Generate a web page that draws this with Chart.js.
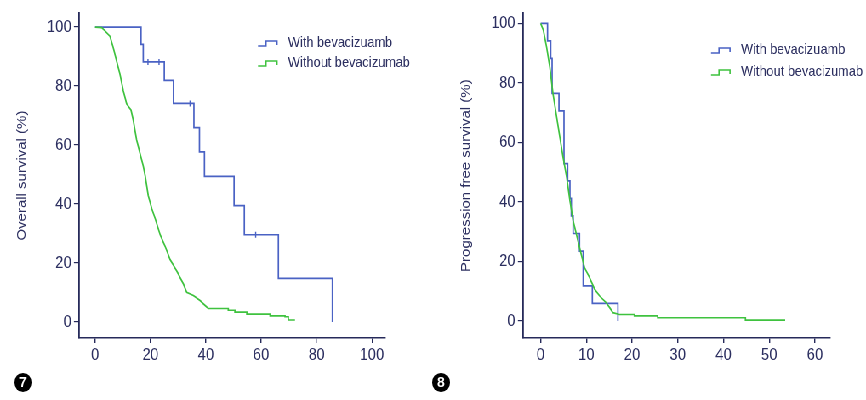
<!DOCTYPE html>
<html>
<head>
<meta charset="utf-8">
<script src="https://cdn.jsdelivr.net/npm/chart.js@4/dist/chart.umd.min.js"></script>
<style>
  html, body { margin: 0; padding: 0; background: #fff; }
  #wrap { position: relative; width: 866px; height: 400px; overflow: hidden; }
  /* la figura original está comprimida en horizontal: dibujamos más ancho y escalamos */
  #squash { position: absolute; left: 0; top: 0; width: 1018px; height: 400px; transform-origin: 0 0; }
  #squash canvas { position: absolute; top: 0; }
  .badge { position: absolute; width: 18px; height: 19px; border-radius: 50%; background: #000; color: #fff;
           font: bold 14px "Liberation Sans", Arial, sans-serif; text-align: center; line-height: 19px; }
</style>
</head>
<body>
<div id="wrap">
  <div id="squash">
    <canvas id="cOS" width="509" height="400" style="left:0"></canvas>
    <canvas id="cPFS" width="509" height="400" style="left:509px"></canvas>
  </div>
  <div class="badge" style="left:14px;top:373px">7</div>
  <div class="badge" style="left:432px;top:373px">8</div>
</div>
<script>
// ---- datos ----
const legendLabels = ['With bevacizuamb', 'Without bevacizumab'];

// Fig 7: overall survival (meses, %)
const osWithT = [0, 16.6, 17.4, 25.0, 28.3, 35.7, 37.7, 39.5, 50.2, 53.9, 66.2, 85.7];
const osWithS = [100, 94.1, 88.2, 81.9, 74.1, 65.9, 57.7, 49.4, 39.5, 29.6, 14.8, 0];
const osWithCensT = [19.1, 23.1, 34.3, 58.0];
const osWithCensS = [88.2, 88.2, 74.1, 29.6];
const osWithoutT = [0, 2.4, 3.6, 5.4, 6.6, 7.8, 9.0, 10.2, 11.4, 13.0, 13.8, 15.0, 16.2, 17.4, 18.1, 19.2, 20.5, 21.7,
  23.5, 25.3, 27.1, 29.5, 31.9, 33.1, 35.5, 37.9, 40.3, 40.9, 48.1, 48.1, 50.5, 50.5, 54.8, 54.8, 63.2, 63.2, 68.6, 68.6,
  69.8, 69.8, 72.2];
const osWithoutS = [100, 99.8, 98.7, 96.8, 92.9, 88.4, 84.0, 78.4, 74.0, 71.8, 68.4, 61.8, 57.3, 52.9, 49.6, 42.9, 38.4, 35.1,
  29.6, 25.7, 21.2, 17.3, 12.9, 10.1, 9.0, 7.3, 5.1, 4.6, 4.6, 4.0, 4.0, 3.4, 3.4, 2.7, 2.7, 2.1, 2.1, 1.8,
  1.8, 0.7, 0.7];
const osXTicks = [0, 20, 40, 60, 80, 100];

// Fig 8: progression free survival
const pfsWithT = [0, 1.5, 2.2, 2.5, 4.0, 5.1, 5.9, 6.4, 6.7, 7.1, 8.5, 9.3, 11.3, 16.9];
const pfsWithS = [100, 94.1, 88.2, 76.5, 70.6, 52.9, 47.1, 41.2, 35.3, 29.4, 23.5, 11.8, 5.9, 0];
const pfsWithoutT = [0, 0.6, 1.3, 2.0, 2.7, 3.5, 4.2, 4.9, 5.7, 6.4, 7.1, 7.8, 8.5, 9.6, 10.7, 11.8, 12.9, 14.3, 15.1,
  15.8, 17.2, 20.5, 20.5, 25.6, 25.6, 44.8, 44.8, 53.5];
const pfsWithoutS = [100, 97.6, 92.0, 85.3, 76.3, 68.5, 61.7, 55.0, 48.2, 40.4, 33.7, 29.2, 24.7, 17.9, 14.6, 10.7, 8.4, 6.2, 4.5,
  2.8, 2.2, 2.2, 1.7, 1.7, 1.1, 1.1, 0.3, 0.3];
const pfsXTicks = [0, 10, 20, 30, 40, 50, 60];

const yTicks = [0, 20, 40, 60, 80, 100];

// ---- estilo ----
const BLUE = '#4a62c4', GREEN = '#3fc23f', AXIS = '#262a5a', TXT = '#2c2f60';
const SANS = '"Liberation Sans", Arial, sans-serif';
const K = 433 / 509;                       // compresión horizontal
document.getElementById('squash').style.transform = `scaleX(${K})`;
const px = v => v / K;                     // px de pantalla -> px del canvas

const pts = (xs, ys) => xs.map((x, i) => ({ x, y: ys[i] }));

// leyenda con el símbolo escalonado del original
const stepLegend = {
  id: 'stepLegend',
  afterDraw(chart, args, o) {
    const ctx = chart.ctx;
    ctx.save();
    ctx.font = '15px ' + SANS;
    ctx.textBaseline = 'middle';
    o.colors.forEach((c, i) => {
      const x = px(o.x), y = o.y + i * o.dy;
      ctx.strokeStyle = c; ctx.lineWidth = 1.6;
      ctx.beginPath();
      ctx.moveTo(x, y + 3); ctx.lineTo(x + px(8), y + 3); ctx.lineTo(x + px(8), y - 2);
      ctx.lineTo(x + px(19), y - 2); ctx.lineTo(x + px(19), y + 2);
      ctx.stroke();
      ctx.fillStyle = TXT;
      ctx.fillText(legendLabels[i], x + px(30), y);
    });
    ctx.restore();
  }
};

function makeChart(id, cfg) {
  const line = (data, color, stepped) => ({ type: 'line', data, borderColor: color, borderWidth: 1.7, pointRadius: 0,
    stepped, tension: 0, fill: false, clip: false, borderJoinStyle: 'miter' });
  const datasets = [
    line(cfg.without, GREEN, false),
    line(cfg.withS, BLUE, 'before')
  ];
  if (cfg.cens) datasets.push({ type: 'scatter', data: cfg.cens, showLine: false, pointStyle: 'line', rotation: 90,
    pointRadius: 3, pointBorderColor: BLUE, borderColor: BLUE, pointBorderWidth: 1.4 });

  const tickOpts = { color: TXT, font: { family: SANS, size: 17 } };
  return new Chart(document.getElementById(id), {
    type: 'line',
    data: { datasets },
    plugins: [stepLegend],
    options: {
      responsive: false, animation: false, events: [],
      layout: { padding: { left: 0, top: cfg.top, right: 509 - px(cfg.right), bottom: 0 } },
      plugins: { legend: { display: false }, tooltip: { enabled: false }, stepLegend: cfg.legend },
      scales: {
        x: {
          type: 'linear', min: cfg.xMin, max: cfg.xMax,
          afterBuildTicks: s => { s.ticks = cfg.xTicks.map(v => ({ value: v })); },
          afterFit: s => { s.height = 400 - 338; },
          grid: { drawOnChartArea: false, color: AXIS, tickLength: 5, lineWidth: 1.4 },
          border: { color: AXIS, width: 1.5 },
          ticks: { ...tickOpts, padding: 2, maxRotation: 0 }
        },
        y: {
          type: 'linear', min: cfg.yMin, max: cfg.yMax,
          afterBuildTicks: s => { s.ticks = yTicks.map(v => ({ value: v })); },
          afterFit: s => { s.width = px(cfg.left); },
          grid: { drawOnChartArea: false, color: AXIS, tickLength: 6, lineWidth: 1.2 },
          border: { color: AXIS, width: 1.8 },
          ticks: { ...tickOpts, padding: 3 },
          title: { display: true, text: cfg.yTitle, color: TXT, font: { family: SANS, size: 15 },
                   padding: { top: px(cfg.titleX) - 9, bottom: 0 } }
        }
      }
    }
  });
}

makeChart('cOS', {
  withS: pts(osWithT, osWithS), without: pts(osWithoutT, osWithoutS), cens: pts(osWithCensT, osWithCensS),
  xTicks: osXTicks, xMin: -5.8, xMax: 104.7, yMin: -5.4, yMax: 104.7,
  top: 8, left: 79, right: 385, titleX: 22, yTitle: 'Overall survival (%)',
  legend: { x: 258, y: 43, dy: 20, colors: [BLUE, GREEN] }
});

makeChart('cPFS', {
  withS: pts(pfsWithT, pfsWithS), without: pts(pfsWithoutT, pfsWithoutS),
  xTicks: pfsXTicks, xMin: -3.87, xMax: 63.3, yMin: -5.7, yMax: 103.4,
  top: 13, left: 523 - 433, right: 830 - 433, titleX: 466 - 433, yTitle: 'Progression free survival (%)',
  legend: { x: 711 - 433, y: 50, dy: 22, colors: [BLUE, GREEN] }
});
</script>
</body>
</html>
